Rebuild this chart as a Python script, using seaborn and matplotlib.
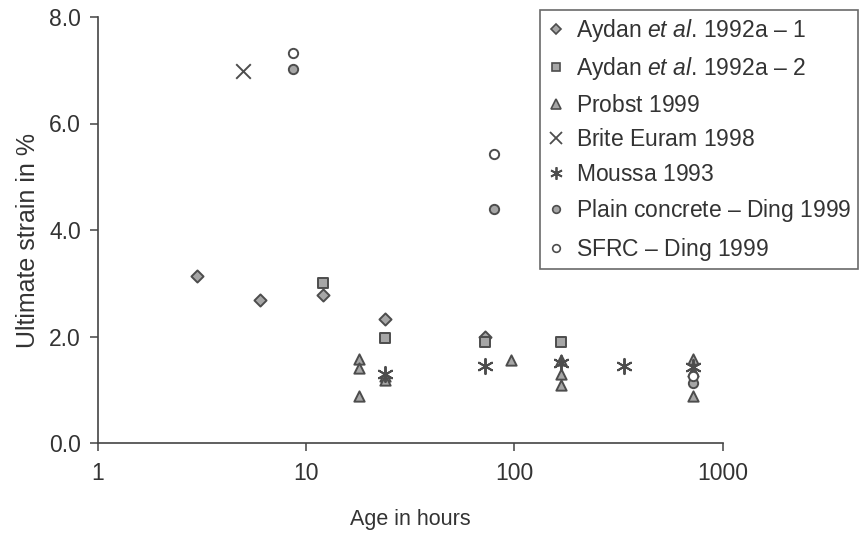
import matplotlib
matplotlib.use("Agg")
import matplotlib.pyplot as plt
import seaborn as sns
import pandas as pd
from matplotlib.lines import Line2D

# ---- data ----
aydan1_h = [3, 6, 12, 24, 72]
aydan1_s = [3.14, 2.69, 2.78, 2.33, 1.99]
aydan2_h = [12, 24, 72, 168]
aydan2_s = [3.01, 1.98, 1.90, 1.90]
probst_h = [18, 18, 18, 24, 24, 96, 168, 168, 168, 720, 720, 720]
probst_s = [1.58, 1.40, 0.88, 1.25, 1.18, 1.56, 1.55, 1.30, 1.08, 1.57, 1.35, 0.88]
brite_h = [5]
brite_s = [6.99]
moussa_h = [24, 72, 168, 336, 720]
moussa_s = [1.30, 1.45, 1.50, 1.45, 1.43]
plain_h = [8.7, 80, 720]
plain_s = [7.02, 4.39, 1.12]
sfrc_h = [8.7, 80, 720]
sfrc_s = [7.32, 5.42, 1.25]

labels = [r"Aydan $\it{et\ al}$. 1992a – 1", r"Aydan $\it{et\ al}$. 1992a – 2",
          r"Probst 1999$\mathregular{\ }$", r"Brite Euram 1998$\mathregular{\ }$",
          r"Moussa 1993$\mathregular{\ }$",
          r"Plain concrete – Ding 1999$\mathregular{\ }$", r"SFRC – Ding 1999$\mathregular{\ }$"]
xticks = [1, 10, 100, 1000]
xticklabels = ["1", "10", "100", "1000"]
yticks = [0, 2, 4, 6, 8]
yticklabels = ["0.0", "2.0", "4.0", "6.0", "8.0"]

sns.set_style("white")
plt.rcParams["font.family"] = ["Liberation Sans", "DejaVu Sans"]
plt.rcParams["mathtext.fontset"] = "custom"
plt.rcParams["mathtext.rm"] = "Liberation Sans"
plt.rcParams["mathtext.it"] = "Liberation Sans:italic"

EDGE = "#4d4d4d"
FILL = "#a6a6a6"
TXT = "#333333"

series = [
    (aydan1_h, aydan1_s, "D", FILL, 38, 5.5),
    (aydan2_h, aydan2_s, "s", FILL, 50, 6.0),
    (probst_h, probst_s, "^", FILL, 55, 6.5),
    (brite_h, brite_s, "x", EDGE, 110, 9.0),
    (moussa_h, moussa_s, (6, 2, 0), EDGE, 120, 9.0),
    (plain_h, plain_s, "o", FILL, 45, 5.5),
    (sfrc_h, sfrc_s, "o", "white", 45, 5.5),
]

fig = plt.figure(figsize=(8.65, 5.34), dpi=100)
ax = fig.add_axes([97.7 / 865, (534 - 443) / 534, (722.7 - 97.7) / 865, (443 - 17) / 534])

handles = []
for (h, s, m, fc, size, lsize), lab in zip(series, labels):
    df = pd.DataFrame({"hours": h, "strain": s})
    if m in ("x", (6, 2, 0)):
        sns.scatterplot(data=df, x="hours", y="strain", marker=m, s=size,
                        color=EDGE, linewidth=1.4, ax=ax, zorder=3)
        handles.append(Line2D([], [], linestyle="none", marker=m, markersize=lsize,
                              color=EDGE, markeredgewidth=1.3))
    else:
        sns.scatterplot(data=df, x="hours", y="strain", marker=m, s=size,
                        facecolor=fc, edgecolor=EDGE, linewidth=1.4, ax=ax, zorder=3)
        handles.append(Line2D([], [], linestyle="none", marker=m, markersize=lsize,
                              markerfacecolor=fc, markeredgecolor=EDGE, markeredgewidth=1.2))

ax.set_xscale("log")
ax.set_xlim(1, 1000)
ax.set_ylim(0, 8)
ax.set_xticks(xticks)
ax.set_xticklabels(xticklabels)
ax.minorticks_off()
ax.set_yticks(yticks)
ax.set_yticklabels(yticklabels)

for sp in ["top", "right"]:
    ax.spines[sp].set_visible(False)
for sp in ["left", "bottom"]:
    ax.spines[sp].set_color("#444444")
    ax.spines[sp].set_linewidth(1.2)

ax.tick_params(axis="both", which="major", direction="out", length=6, width=1.1,
               color="#444444", labelsize=16.5, labelcolor=TXT, pad=6,
               bottom=True, left=True)
ax.tick_params(axis="x", pad=8)
ax.set_xlabel("Age in hours", fontsize=15.5, color=TXT, labelpad=17)
ax.set_ylabel("Ultimate strain in %", fontsize=18, color=TXT)
ax.yaxis.set_label_coords(-0.092, 0.476)

leg = ax.legend(handles, labels, loc="upper right",
                bbox_to_anchor=(858 / 865, (534 - 10) / 534),
                bbox_transform=fig.transFigure, frameon=True, fancybox=False,
                fontsize=16.5, handletextpad=0.45, handlelength=0.8,
                borderpad=0.3, labelspacing=0.5, borderaxespad=0)
leg.get_frame().set_edgecolor("#444444")
leg.get_frame().set_linewidth(1.2)
for t in leg.get_texts():
    t.set_color(TXT)

fig.savefig("out.png", dpi=100)
